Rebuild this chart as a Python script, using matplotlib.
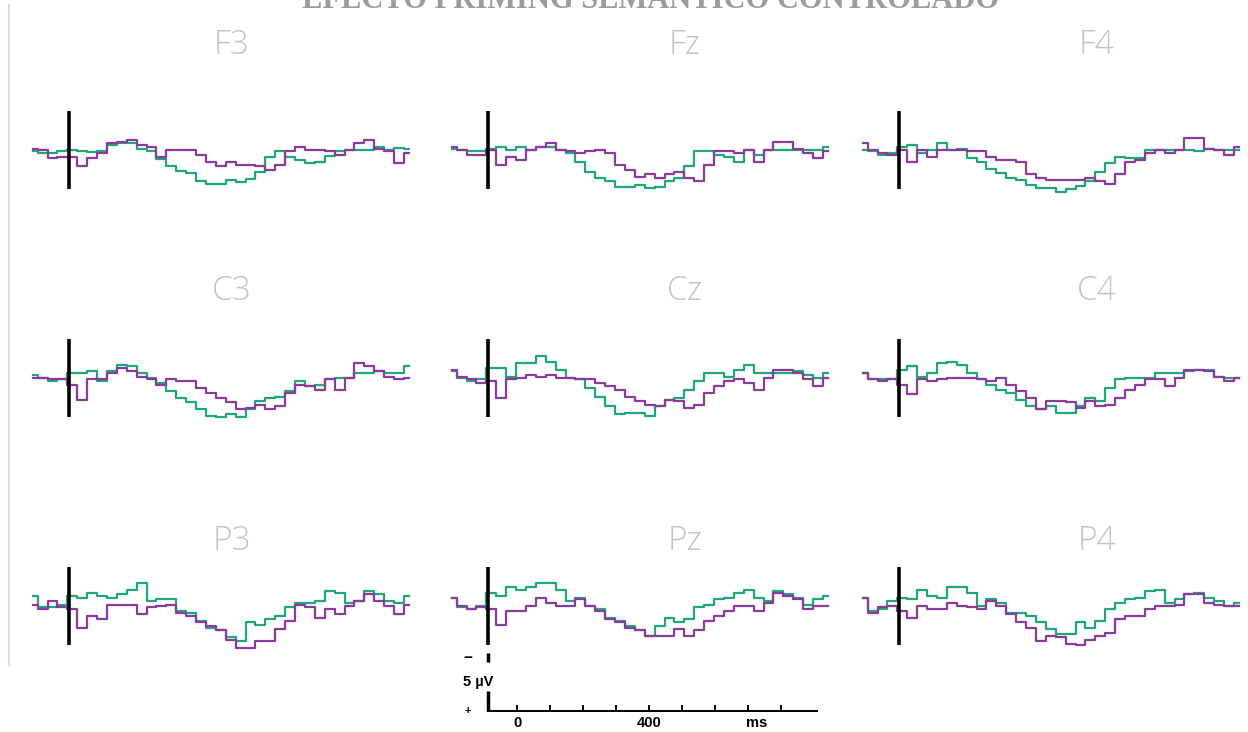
import numpy as np
import matplotlib
matplotlib.use("Agg")
import matplotlib.pyplot as plt

# tiempo (ms) de cada muestra
t = np.arange(-110, 1031, 30)

canales = [["F3", "Fz", "F4"], ["C3", "Cz", "C4"], ["P3", "Pz", "P4"]]

# amplitudes en microvoltios (negativo arriba)
verde = {
    "F3": [0.1, 0.3, 0.3, 0.1, 0, 0.1, 0.2, 0.1, -0.4, -0.6, -0.6, -0.1, 0.1, 0.8, 1.4, 1.8, 2.0, 2.7, 2.9, 2.9,
           2.6, 2.8, 2.5, 1.9, 0.6, 0.1, 0.6, 0.9, 1.1, 1.0, 0.5, 0.1, 0, 0, 0, -0.3, 0, -0.2, -0.1],
    "Fz": [-0.1, 0, 0.1, 0.1, -0.1, -0.3, 0, -0.3, 0, -0.3, -0.3, 0, 0.3, 1.0, 1.9, 2.4, 2.7, 3.2, 3.2, 3.0,
           3.3, 3.2, 2.7, 2.4, 1.4, 0.1, 0.1, 0.4, 0.6, 1.0, 0, 0.4, 0, 0, 0, 0, 0, 0, -0.3],
    "F4": [0, 0.1, 0.4, 0.3, -0.3, -0.4, 0.3, 0, -0.6, 0, -0.1, 0.7, 1.0, 1.6, 2.0, 2.4, 2.6, 3.0, 3.3, 3.3,
           3.6, 3.4, 3.1, 2.7, 1.9, 1.1, 0.6, 0.7, 0.7, 0, 0, 0, 0, 0, 0.1, -0.1, 0, 0, 0],
    "C3": [-0.3, 0, 0.3, 0.1, -0.4, -0.4, -0.6, 0.3, -0.6, -1.1, -1.0, -0.4, 0, 0.4, 1.1, 1.7, 2.1, 2.7, 3.3, 3.4,
           3.1, 3.4, 2.7, 2.0, 1.7, 1.6, 1.1, 0.3, 0.7, 0.6, 0.1, 0, 0, -0.4, -0.4, -0.6, -0.4, -0.4, -1.0],
    "Cz": [-0.6, 0, 0.3, 0.1, -0.9, -0.9, -0.1, -1.3, -1.3, -1.9, -1.4, -0.7, 0, 0.1, 0.9, 1.6, 2.4, 3.1, 3.0, 3.0,
           3.3, 2.4, 1.9, 1.7, 1.0, 0.3, -0.4, -0.4, -0.1, -0.7, -1.1, -0.4, -0.4, -0.4, -0.4, -0.6, -0.3, 0, -0.4],
    "C4": [-0.4, 0.1, 0.1, 0.1, -0.7, -1.0, -0.1, -0.4, -1.3, -1.4, -1.1, -0.4, 0.1, 0.6, 1.0, 1.3, 1.9, 2.4, 2.7, 2.4,
           3.0, 3.0, 2.4, 1.7, 2.0, 0.9, 0.1, 0, 0, 0, -0.4, -0.4, -0.4, -0.6, -0.7, -0.7, -0.1, 0, 0],
    "P3": [-0.9, 0.1, 0.1, -0.1, -0.9, -0.7, -1.1, -0.9, -0.7, -1.0, -1.4, -2.0, -0.4, -0.6, -0.6, 0.4, 0.6, 1.3, 1.9, 2.1,
           2.7, 3.0, 1.4, 1.6, 1.1, 0.9, 0.1, -0.3, -0.3, -0.4, -1.3, -1.1, -0.3, -0.4, -1.3, -1.0, -0.4, -0.3, -0.9],
    "Pz": [-0.7, 0.1, 0.3, 0, -1.1, -0.9, -1.6, -1.4, -1.6, -2.0, -2.0, -1.4, -0.4, -0.7, 0, 0.3, 1.0, 1.3, 1.7, 2.1,
           2.6, 1.7, 1.0, 1.4, 1.1, 0.1, -0.1, -0.6, -0.7, -1.1, -1.4, -0.7, -0.4, -1.3, -1.0, -0.7, -0.1, -0.6, -0.9],
    "P4": [-0.7, 0.4, 0.3, -0.4, -0.7, -0.6, -1.4, -0.9, -0.7, -1.6, -1.6, -1.1, 0, -0.6, -0.3, 0.6, 0.6, 0.9, 1.4, 2.0,
           2.4, 2.4, 1.4, 1.9, 1.3, 0.3, -0.3, -0.6, -0.7, -1.3, -1.4, -0.3, -0.6, -1.0, -1.1, -0.7, -0.4, 0, -0.3],
}

morado = {
    "F3": [-0.1, 0, 0.7, 0.6, 0.6, 1.4, 0.7, 0.3, -0.6, -0.7, -0.9, -0.4, -0.3, 0.6, 0, 0, 0, 0.4, 1.0, 1.4,
           1.0, 1.3, 1.3, 1.4, 1.7, 1.3, 0.1, -0.3, 0, 0, 0.1, 0.4, 0, -0.6, -0.9, -0.1, 0.1, 1.1, 0.3],
    "Fz": [-0.3, 0, 0.4, 0.4, 0, 1.3, 0.6, 0.9, 0, -0.3, -0.6, 0, 0.1, 0.3, 0.1, 0, 0.3, 1.3, 1.7, 2.3,
           2.1, 2.4, 2.1, 1.9, 2.4, 2.7, 1.3, 0.1, 0.1, 0.3, 0, 1.0, 0, -0.7, -0.7, -0.1, 0.3, 0.7, 0.1],
    "F4": [-0.6, 0, 0.3, 0.4, 0, 1.0, 0, 0.6, 0, 0, 0, 0.1, 0.1, 0.6, 0.9, 0.9, 1.0, 2.1, 2.4, 2.6,
           2.6, 2.6, 2.6, 2.4, 2.7, 2.9, 2.1, 1.0, 0.9, 0.3, 0, 0.3, 0, -1.0, -1.0, -0.1, 0, 0.4, -0.3],
    "C3": [0, 0, 0.1, 0.1, 0.6, 1.9, 0.1, 0.1, -0.4, -0.9, -0.6, -0.1, 0.1, 0.6, 0.1, 0.3, 0.3, 0.9, 1.3, 1.7,
           2.1, 2.7, 2.6, 2.3, 2.7, 2.4, 1.3, 0.6, 0.7, 1.0, 0.1, 1.0, 0, -1.3, -1.0, -0.6, -0.1, 0.1, 0],
    "Cz": [-0.7, -0.1, 0.1, 0.4, 0.3, 1.7, 0.1, 0, -0.3, -0.1, -0.3, 0, 0, 0.1, 0.1, 0.4, 0.7, 1.0, 1.6, 2.0,
           2.3, 2.4, 1.9, 2.0, 2.6, 2.3, 1.3, 0.7, 0.3, 0.1, 0.4, 1.0, 0, -0.7, -0.7, -0.4, 0.1, 0.7, 0],
    "C4": [-0.4, 0.1, 0.3, 0.1, 0.6, 1.4, 0.1, 0.3, 0.1, 0, 0, 0, 0.1, 0.3, 0, 0.6, 1.1, 1.7, 2.7, 2.0,
           2.0, 2.1, 2.6, 2.0, 2.4, 2.3, 1.7, 1.0, 0.6, 0.1, 0.1, 0.7, 0, -0.7, -0.7, -0.6, -0.1, 0.3, 0],
    "P3": [-0.1, 0.3, -0.4, 0.1, 0.3, 1.9, 0.9, 1.1, -0.1, -0.1, -0.1, 0.7, 0.1, 0, -0.1, 0.6, 0.9, 1.4, 1.7, 2.1,
           2.9, 3.6, 3.6, 3.0, 3.0, 2.0, 1.3, -0.1, 0.1, 1.0, 0.3, 0.7, 0, -0.4, -1.0, -0.4, 0, 0.7, -0.1],
    "Pz": [-0.7, 0, 0.3, 0.1, 0.3, 1.6, 0.4, 0.4, 0, -0.7, -0.3, 0, 0, -0.6, 0, 0.4, 1.1, 1.4, 1.9, 2.1,
           2.6, 2.6, 2.6, 2.0, 2.6, 2.1, 1.3, 0.9, 0.4, 0, 0, 0.4, -0.3, -1.1, -0.9, -0.6, 0.3, 0, 0],
    "P4": [-0.7, 0.6, 0.1, 0, 0.4, 1.0, 0, 0.3, 0.3, -0.3, 0, 0.1, 0.3, -0.4, 0, 0.7, 1.4, 1.9, 3.0, 2.6,
           2.7, 3.3, 3.4, 2.9, 2.6, 2.3, 1.1, 0.9, 0.9, 0.3, 0, 0, -0.1, -1.0, -1.0, -0.3, -0.1, 0, 0],
}

titulo = "EFECTO PRIMING SEMÁNTICO CONTROLADO"
ticks_ms = [0, 100, 200, 300, 400, 500, 600, 700, 800]
etiquetas_ms = {0: "0", 400: "400"}

color_verde = "#1fa67a"
color_morado = "#8b3a9e"
color_canal = "#c4c4c4"

W, H = 1248, 732
PX_MS = 0.33     # pixeles por ms
PX_UV = 11.6     # pixeles por microvoltio

fig = plt.figure(figsize=(W / 100, H / 100), dpi=100)


def ejes_px(left, top, width, height):
    ax = fig.add_axes([left / W, 1 - (top + height) / H, width / W, height / H])
    ax.set_axis_off()
    return ax


# posicion del estimulo (x) por columna y linea base (y) por fila
x_estim = [69, 488, 899]
y_base = [150, 378, 606]
x_etiq = [232, 685, 1097]
y_etiq = [45, 291, 541]

for i, fila in enumerate(canales):
    for j, canal in enumerate(fila):
        ax = ejes_px(x_estim[j] - 120 * PX_MS, y_base[i] - 4.2 * PX_UV, 1165 * PX_MS, 8.4 * PX_UV)
        ax.set_xlim(-120, 1045)
        ax.set_ylim(4.2, -4.2)
        ax.plot(t, verde[canal], color=color_verde, lw=1.6, drawstyle="steps-mid")
        ax.plot(t, morado[canal], color=color_morado, lw=1.6, drawstyle="steps-mid")
        ax.vlines(0, -3.35, 3.4, color="black", lw=2.6)
        fig.text(x_etiq[j] / W, 1 - y_etiq[i] / H, canal, color=color_canal, fontsize=24,
                 family="Open Sans", fontweight="light", ha="center", va="center")

# titulo cortado arriba
fig.text(651 / W, 1 - 8 / H, titulo, color="#9c9c9c", fontsize=22, family="Liberation Serif",
         fontweight="bold", ha="center", va="baseline")

# linea gris a la izquierda
fig.add_artist(plt.Line2D([9 / W, 9 / W], [1 - 5 / H, 1 - 665 / H], color="#dcdcdc", lw=1.5))

# barra de escala
axs = ejes_px(517 - 160 * PX_MS, 711 - 6 * PX_UV, 1110 * PX_MS, 8 * PX_UV)
axs.set_xlim(-160, 950)
axs.set_ylim(2, -6)
axs.plot([-88, 910], [0, 0], color="black", lw=1.4)
axs.vlines(-88, -1.7, 0, color="black", lw=2.5)
axs.vlines(-88, -5.0, -4.2, color="black", lw=2.5)
axs.vlines(ticks_ms, -0.5, 0, color="black", lw=1.4)
axs.text(-150, -4.6, "−", fontsize=11, family="Liberation Sans", fontweight="bold", ha="center", va="center")
axs.text(-150, 0, "+", fontsize=8, family="Liberation Sans", fontweight="bold", ha="center", va="center")
axs.text(-118, -2.5, "5 µV", fontsize=10.5, family="Liberation Sans", fontweight="bold", ha="center", va="center")
for ms, lab in etiquetas_ms.items():
    axs.text(ms, 1.0, lab, fontsize=10.5, family="Liberation Sans", fontweight="bold", ha="center", va="center")
axs.text(727, 1.0, "ms", fontsize=10.5, family="Liberation Sans", fontweight="bold", ha="center", va="center")

fig.savefig("out.png", dpi=100)
